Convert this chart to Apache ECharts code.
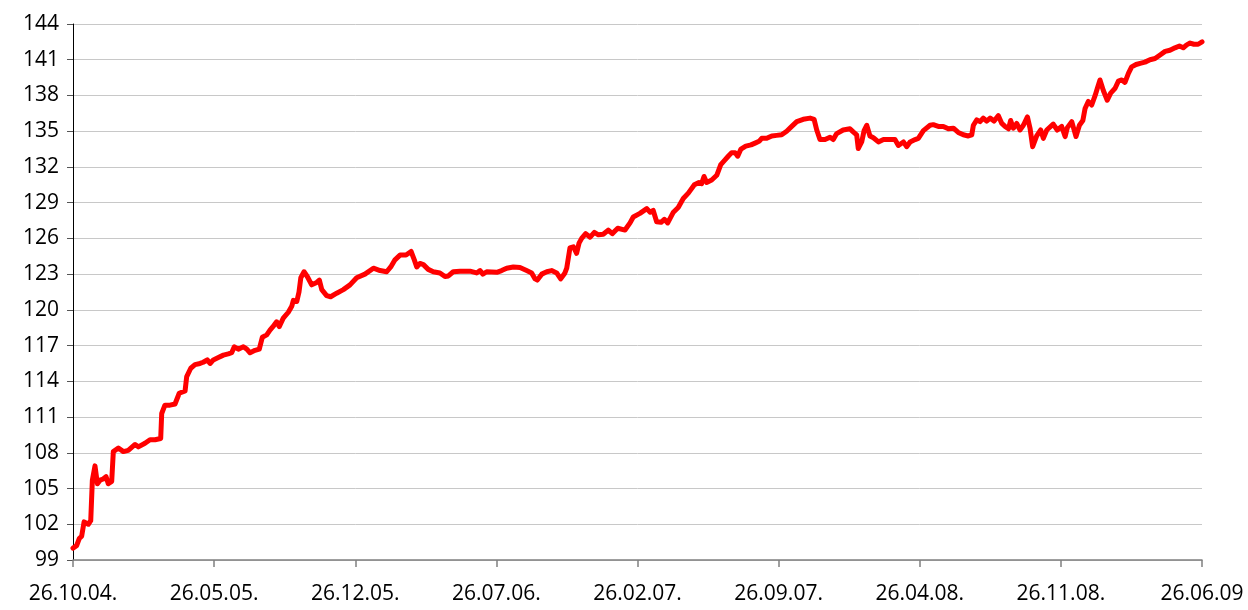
<!DOCTYPE html>
<html>
<head>
<meta charset="utf-8">
<script src="https://cdn.jsdelivr.net/npm/echarts@6/dist/echarts.min.js"></script>
<style>
html,body{margin:0;padding:0;background:#fff;}
#chart{width:1248px;height:610px;}
</style>
</head>
<body>
<div id="chart"></div>
<script>
// x-axis tick labels (every 7 months from 26.10.04.)
var tickLabels = ['26.10.04.', '26.05.05.', '26.12.05.', '26.07.06.', '26.02.07.', '26.09.07.', '26.04.08.', '26.11.08.', '26.06.09'];

// time position in months since 26.10.04.
var months = [
  0, 0.18, 0.31, 0.43, 0.55, 0.64, 0.76, 0.88, 0.96, 1.09, 1.21, 1.34, 1.5, 1.64, 1.75, 1.92,
  2.0, 2.25, 2.5, 2.74, 3.08, 3.24, 3.57, 3.82, 4.07, 4.35, 4.4, 4.56, 4.81, 5.06, 5.27, 5.56,
  5.64, 5.84, 6.05, 6.3, 6.46, 6.66, 6.8, 6.96, 7.21, 7.46, 7.7, 7.87, 8.0, 8.2, 8.45, 8.62,
  8.78, 9.03, 9.24, 9.39, 9.61, 9.77, 9.97, 10.1, 10.23, 10.43, 10.68, 10.85, 10.93, 11.1,
  11.21, 11.3, 11.46, 11.62, 11.84, 12.09, 12.22, 12.34, 12.58, 12.78, 13.08, 13.41, 13.74,
  14.07, 14.48, 14.9, 15.23, 15.56, 15.76, 15.97, 16.22, 16.52, 16.77, 16.93, 17.05, 17.21,
  17.38, 17.62, 17.87, 18.2, 18.45, 18.62, 18.86, 19.2, 19.69, 20.02, 20.19, 20.33, 20.52,
  21.02, 21.26, 21.51, 21.84, 22.17, 22.5, 22.75, 22.92, 23.03, 23.25, 23.5, 23.74, 23.99,
  24.19, 24.4, 24.49, 24.65, 24.82, 24.98, 25.1, 25.23, 25.43, 25.65, 25.86, 26.06, 26.3,
  26.55, 26.75, 27.02, 27.38, 27.63, 27.79, 28.12, 28.46, 28.62, 28.78, 28.95, 29.17, 29.33,
  29.5, 29.78, 30.02, 30.27, 30.52, 30.82, 31.05, 31.18, 31.3, 31.43, 31.68, 31.93, 32.13,
  32.34, 32.5, 32.67, 32.84, 32.97, 33.13, 33.37, 33.63, 33.83, 34.03, 34.16, 34.41, 34.66,
  34.9, 35.15, 35.4, 35.65, 35.9, 36.22, 36.56, 36.76, 36.89, 37.05, 37.3, 37.55, 37.71,
  37.88, 38.2, 38.54, 38.7, 38.87, 38.95, 39.12, 39.24, 39.37, 39.53, 39.7, 39.95, 40.2,
  40.53, 40.77, 40.94, 41.19, 41.35, 41.52, 41.77, 41.93, 42.18, 42.51, 42.67, 42.92, 43.17,
  43.42, 43.67, 43.91, 44.16, 44.41, 44.58, 44.66, 44.83, 44.99, 45.15, 45.32, 45.49, 45.68,
  45.9, 46.07, 46.23, 46.4, 46.51, 46.64, 46.81, 46.97, 47.14, 47.34, 47.47, 47.6, 47.8,
  48.0, 48.13, 48.3, 48.62, 48.82, 49.04, 49.21, 49.32, 49.54, 49.75, 49.92, 50.09, 50.2,
  50.36, 50.53, 50.7, 50.81, 50.94, 51.11, 51.3, 51.47, 51.69, 51.85, 52.02, 52.18, 52.35,
  52.51, 52.73, 52.93, 53.17, 53.42, 53.67, 53.92, 54.17, 54.41, 54.66, 54.88, 55.07, 55.24,
  55.41, 55.6, 55.81, 56.0
];

// index values
var values = [
  100.0, 100.2, 100.8, 101.0, 102.2, 102.3, 102.0, 102.3, 105.7, 106.9, 105.4, 105.7, 105.8, 106.0, 105.4, 105.6,
  108.1, 108.4, 108.1, 108.2, 108.7, 108.5, 108.8, 109.1, 109.1, 109.2, 111.3, 112.0, 112.0, 112.1, 113.0, 113.2,
  114.4, 115.1, 115.4, 115.5, 115.6, 115.8, 115.5, 115.8, 116.0, 116.2, 116.3, 116.4, 116.9, 116.7, 116.9, 116.7,
  116.4, 116.6, 116.7, 117.7, 117.9, 118.3, 118.7, 119.0, 118.6, 119.3, 119.8, 120.3, 120.8, 120.7,
  121.5, 122.7, 123.2, 122.8, 122.1, 122.3, 122.5, 121.7, 121.2, 121.1, 121.4, 121.7, 122.1,
  122.7, 123.0, 123.5, 123.3, 123.2, 123.6, 124.2, 124.6, 124.6, 124.9, 124.2, 123.6, 123.9,
  123.8, 123.4, 123.2, 123.1, 122.8, 122.85, 123.2, 123.25, 123.25, 123.1, 123.3, 123.0, 123.2,
  123.15, 123.3, 123.5, 123.6, 123.55, 123.3, 123.1, 122.6, 122.5, 123.0, 123.2, 123.3, 123.1,
  122.6, 123.1, 123.5, 125.2, 125.3, 124.75, 125.6, 126.0, 126.4, 126.1, 126.5, 126.3, 126.35,
  126.7, 126.4, 126.85, 126.7, 127.3, 127.8, 128.1, 128.5, 128.2, 128.35, 127.4, 127.35, 127.6,
  127.3, 128.2, 128.6, 129.35, 129.8, 130.5, 130.7, 130.6, 131.2, 130.7, 130.9, 131.3, 132.2,
  132.6, 132.9, 133.2, 133.2, 132.9, 133.5, 133.75, 133.85, 134.0, 134.15, 134.4, 134.4, 134.6,
  134.65, 134.7, 135.0, 135.4, 135.8, 136.0, 136.1, 136.0, 135.1, 134.3, 134.3, 134.5, 134.3,
  134.8, 135.1, 135.2, 134.95, 134.7, 133.55, 134.1, 135.05, 135.5, 134.6, 134.45, 134.1, 134.3,
  134.3, 134.3, 133.8, 134.1, 133.7, 134.1, 134.3, 134.4, 135.05, 135.5, 135.55, 135.4, 135.4,
  135.2, 135.25, 134.9, 134.7, 134.6, 134.7, 135.5, 135.95, 135.8, 136.1, 135.85, 136.1, 135.85,
  136.3, 135.65, 135.4, 135.2, 135.9, 135.25, 135.65, 135.1, 135.5, 136.2, 135.25, 133.7, 134.6,
  135.1, 134.4, 135.1, 135.6, 135.1, 135.4, 134.55, 135.3, 135.8, 134.55, 135.5, 135.9, 136.9,
  137.5, 137.2, 138.0, 138.6, 139.3, 138.4, 137.6, 138.2, 138.6, 139.2, 139.3, 139.1, 139.85,
  140.4, 140.6, 140.7, 140.8, 141.0, 141.1, 141.4, 141.7, 141.8, 142.0, 142.15, 142.0, 142.25,
  142.4, 142.3, 142.3, 142.5
];

var chart = echarts.init(document.getElementById('chart'), null, {renderer: 'canvas'});
var FONT = '"Open Sans", "Noto Sans", sans-serif';

var option = {
  animation: false,
  backgroundColor: '#ffffff',
  grid: {left: 73, right: 46, top: 24, bottom: 50, containLabel: false},
  xAxis: {
    type: 'value',
    min: 0,
    max: 56,
    interval: 7,
    axisLine: {show: true, lineStyle: {color: '#808080', width: 1.5}},
    axisTick: {show: true, length: 7, lineStyle: {color: '#808080', width: 1.5}},
    splitLine: {show: false},
    axisLabel: {
      show: true,
      margin: 24,
      color: '#000',
      fontFamily: FONT,
      fontSize: 21,
      showMinLabel: true,
      showMaxLabel: true,
      formatter: function (v) { return tickLabels[Math.round(v / 7)] || ''; }
    }
  },
  yAxis: {
    type: 'value',
    min: 99,
    max: 144,
    interval: 3,
    axisLine: {show: true, lineStyle: {color: '#000', width: 1}},
    axisTick: {show: true, length: 6, lineStyle: {color: '#555', width: 1}},
    splitLine: {show: true, lineStyle: {color: '#c8c8c8', width: 1}},
    axisLabel: {
      margin: 14,
      color: '#000',
      fontFamily: FONT,
      fontSize: 21
    }
  },
  series: [{
    type: 'line',
    data: months.map(function (m, i) { return [m, values[i]]; }),
    showSymbol: false,
    symbol: 'none',
    smooth: false,
    lineStyle: {color: '#ff0000', width: 5, join: 'round', cap: 'round'},
    z: 5
  }]
};
chart.setOption(option);
</script>
</body>
</html>
